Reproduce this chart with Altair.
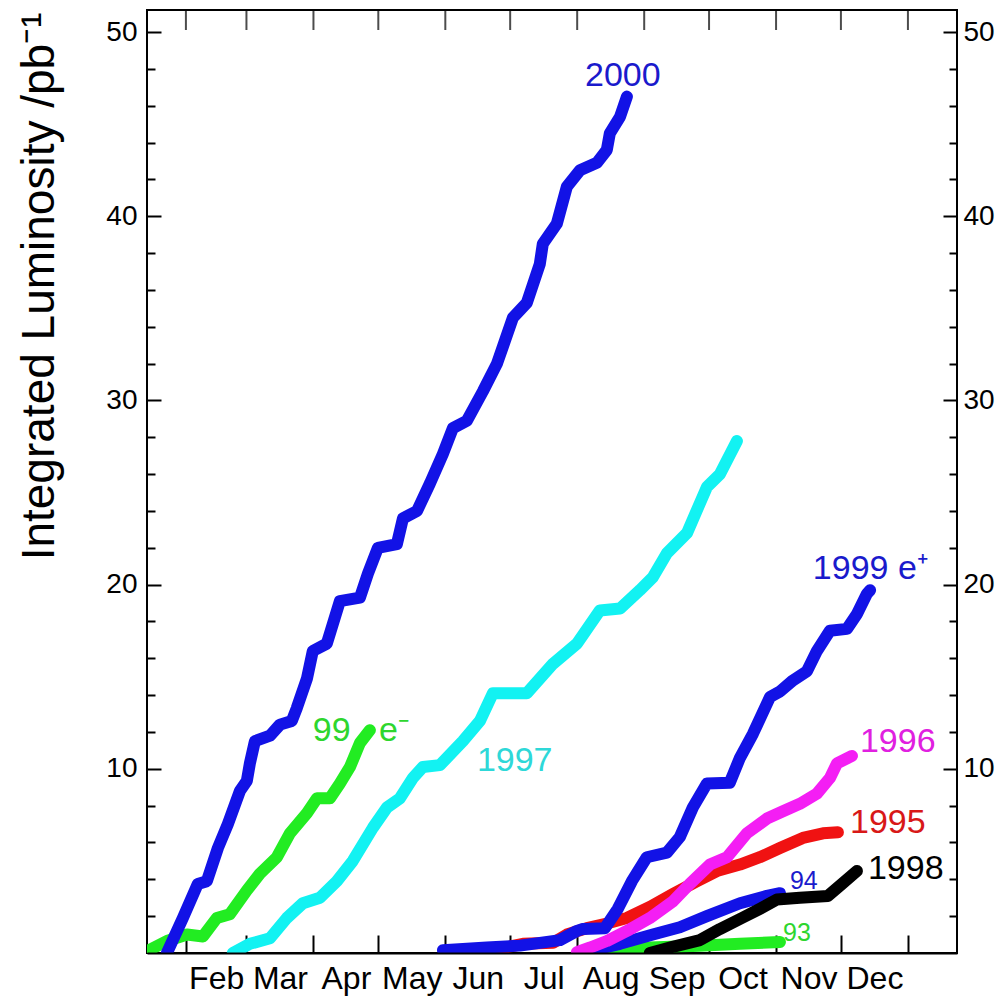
import json
import altair as alt
import pandas as pd

FONT = "Liberation Sans"
PLOT_W = 810
PLOT_H = 943

# ---- axis values -------------------------------------------------------
MONTHS = ["Feb", "Mar", "Apr", "May", "Jun", "Jul", "Aug", "Sep", "Oct", "Nov", "Dec"]
MONTH_START_DAYS = [31, 59, 90, 120, 151, 181, 212, 243, 273, 304, 334, 365]
MONTH_MID_DAYS = [45, 74.5, 105, 135.5, 166, 196.5, 227.5, 258, 288.5, 319, 349.5]
Y_LABELS = [10, 20, 30, 40, 50]
Y_MINOR = [2, 4, 6, 8, 12, 14, 16, 18, 22, 24, 26, 28, 32, 34, 36, 38, 42, 44, 46, 48]
Y_TITLE = "Integrated Luminosity /pb\u207b\u00b9"

# ---- series (day of year, integrated luminosity in pb^-1) ---------------
DAY_1993 = [217.9, 227.1, 245.6, 268.8, 287.3, 305.8]
LUM_1993 = [0.05, 0.15, 0.3, 0.4, 0.5, 0.6]

DAY_1994 = [215.6, 231.8, 247.0, 259.5, 272.0, 287.3, 299.8, 305.8]
LUM_1994 = [0.05, 0.5, 1.0, 1.4, 2.0, 2.7, 3.1, 3.25]

DAY_1995 = [169.3, 174.9, 186.9, 200.8, 207.2, 216.5, 225.7, 235.0, 245.6, 256.3,
            267.4, 276.6, 287.3, 296.5, 305.8, 316.4, 325.7, 332.6]
LUM_1995 = [0.1, 0.2, 0.5, 0.55, 1.0, 1.35, 1.6, 1.9, 2.5, 3.2,
            3.9, 4.45, 4.8, 5.2, 5.7, 6.25, 6.5, 6.55]

DAY_1996 = [211.9, 218.0, 225.7, 235.0, 245.6, 256.3, 264.1, 273.4, 281.3, 290.5,
            299.8, 307.2, 315.0, 322.9, 328.9, 332.2, 339.1]
LUM_1996 = [0.05, 0.3, 0.65, 1.2, 1.9, 2.8, 3.75, 4.8, 5.2, 6.5,
            7.3, 7.7, 8.1, 8.65, 9.5, 10.3, 10.7]

DAY_1997 = [52.7, 60.6, 69.9, 77.7, 85.1, 93.0, 100.8, 108.2, 117.5, 124.0,
            130.0, 136.0, 140.6, 148.5, 159.1, 167.0, 173.0, 188.7, 200.8, 211.9,
            222.5, 231.8, 241.0, 247.0, 253.5, 262.8, 272.0, 278.0, 285.9]
LUM_1997 = [0.0, 0.5, 0.8, 1.9, 2.7, 3.0, 3.9, 5.0, 6.8, 7.9,
            8.4, 9.5, 10.1, 10.2, 11.5, 12.6, 14.1, 14.1, 15.7, 16.8,
            18.6, 18.7, 19.7, 20.4, 21.7, 22.8, 25.3, 26.0, 27.8]

DAY_1998 = [245.6, 256.6, 268.8, 278.0, 288.2, 296.5, 304.4, 315.0, 328.0, 334.5, 341.4]
LUM_1998 = [0.0, 0.35, 0.7, 1.3, 1.9, 2.4, 2.9, 3.0, 3.1, 3.75, 4.45]

DAY_1999M = [13.0, 22.2, 31.5, 38.9, 45.3, 51.3, 59.2, 65.2, 73.1, 79.1,
             87.0, 91.6, 97.6, 102.2, 106.9, 111.5, 116.1]
LUM_1999M = [0.1, 0.65, 1.0, 0.9, 1.9, 2.1, 3.4, 4.3, 5.2, 6.5,
             7.6, 8.4, 8.4, 9.2, 10.1, 11.4, 12.1]

DAY_1999P = [149.9, 170.2, 185.5, 204.0, 211.9, 214.6, 224.8, 230.8, 237.3, 244.2,
             253.5, 259.5, 265.5, 272.0, 282.6, 287.3, 293.3, 301.2, 305.8, 311.8,
             318.3, 322.9, 328.9, 336.8, 341.4, 346.0, 347.5]
LUM_1999P = [0.15, 0.3, 0.4, 0.7, 1.2, 1.3, 1.35, 2.4, 3.9, 5.2,
             5.45, 6.3, 7.9, 9.2, 9.25, 10.6, 11.9, 13.9, 14.2, 14.8,
             15.3, 16.4, 17.5, 17.6, 18.4, 19.5, 19.7]

DAY_2000 = [22.2, 29.6, 36.5, 40.7, 45.8, 50.4, 56.0, 59.2, 60.6, 62.9,
            69.9, 74.5, 80.0, 82.3, 87.0, 89.7, 96.2, 102.2, 111.5, 115.2,
            119.8, 128.6, 131.4, 137.9, 143.9, 149.9, 154.5, 161.0, 168.4, 174.9,
            182.3, 188.7, 194.7, 196.1, 202.6, 207.2, 213.3, 221.1, 225.7, 227.1,
            231.8, 235.0]
LUM_2000 = [0.0, 1.9, 3.75, 3.9, 5.7, 7.0, 8.8, 9.35, 10.3, 11.5,
            11.8, 12.4, 12.6, 13.3, 14.9, 16.4, 16.8, 19.1, 19.3, 20.6,
            22.0, 22.2, 23.6, 24.0, 25.5, 27.1, 28.5, 28.9, 30.5, 32.0,
            34.5, 35.3, 37.4, 38.5, 39.6, 41.6, 42.5, 42.9, 43.6, 44.5,
            45.4, 46.5]

# drawing order: oldest first, newest on top
SERIES = ["1993", "1994", "1995", "1996", "1997", "1998", "1999 e-", "1999 e+", "2000"]
SERIES_DAYS = [DAY_1993, DAY_1994, DAY_1995, DAY_1996, DAY_1997, DAY_1998,
               DAY_1999M, DAY_1999P, DAY_2000]
SERIES_LUMS = [LUM_1993, LUM_1994, LUM_1995, LUM_1996, LUM_1997, LUM_1998,
               LUM_1999M, LUM_1999P, LUM_2000]
SERIES_COLORS = ["#22EC22", "#1212E6", "#F01212", "#F41EF4", "#12F2F2", "#000000",
                 "#22EC22", "#1212E6", "#1212E6"]

# ---- curve labels ---------------------------------------------------------
LABEL_TEXT = ["2000", "99\u00a0\u00a0\u00a0e\u207b", "1997", "1999 e\u207a", "1996",
              "1995", "1998", "94", "93"]
LABEL_DAY = [215.6, 89.7, 165.6, 321.0, 342.8, 338.2, 346.5, 310.4, 307.2]
LABEL_LUM = [47.1, 11.5, 9.9, 20.3, 10.9, 6.5, 4.0, 3.5, 0.65]
LABEL_COLORS = ["#1A1ACC", "#2ED62E", "#2ED8D8", "#1A1ACC", "#E020E0",
                "#D81818", "#000000", "#1A1ACC", "#2ED62E"]
LABEL_SIZES = [34, 34, 34, 34, 34, 34, 34, 25, 25]

# ---- build ---------------------------------------------------------------
rows = []
for name, days, lums in zip(SERIES, SERIES_DAYS, SERIES_LUMS):
    for d, v in zip(days, lums):
        rows.append({"series": name, "day": d, "lum": v})
df = pd.DataFrame(rows)

x_scale = alt.Scale(domain=[13, 387.7], nice=False, zero=False)
y_scale = alt.Scale(domain=[0, 51.2], nice=False, zero=False)

label_expr = f"{json.dumps(MONTHS)}[indexof({json.dumps(MONTH_MID_DAYS)}, datum.value)]"

ax_x_labels = alt.Axis(orient="bottom", values=MONTH_MID_DAYS, labelExpr=label_expr,
                       ticks=False, tickSize=0, domain=True, domainColor="black",
                       domainWidth=2, grid=False, labelFont=FONT, labelFontSize=32,
                       labelColor="black", labelPadding=10, labelFlush=False,
                       labelOverlap=False, title=None, zindex=1)
ax_y_labels = alt.Axis(orient="left", values=Y_LABELS, ticks=False, tickSize=0,
                       domain=False, grid=False, labelFont=FONT, labelFontSize=28,
                       labelColor="black", labelPadding=10, labelFlush=False,
                       labelOverlap=False, title=Y_TITLE, titleFont=FONT,
                       titleFontSize=46, titleFontWeight="normal", titleColor="black",
                       titleAngle=270, titleAlign="right", titleBaseline="alphabetic",
                       titleX=-94, titleY=2)


def tick_axis(orient, values, size, offset):
    return alt.Axis(orient=orient, values=values, labels=False, ticks=True,
                    tickSize=size, tickWidth=2, tickColor="black", domain=False,
                    grid=False, offset=offset, title=None)


ax_y_right_labels = alt.Axis(orient="right", values=Y_LABELS, ticks=False, tickSize=0,
                             domain=False, grid=False, labelFont=FONT, labelFontSize=28,
                             labelColor="black", labelPadding=6, labelFlush=False,
                             labelOverlap=False, title=None)

layers = []

# inward month ticks hanging from the top frame edge (tick marks on the x scale)
top_ticks = (
    alt.Chart(pd.DataFrame({"day": MONTH_START_DAYS}))
    .mark_tick(color="black", thickness=2, size=20, orient="vertical", yOffset=10)
    .encode(
        x=alt.X("day:Q", scale=x_scale, axis=None),
        y=alt.value(0),
    )
)

for i, (name, color) in enumerate(zip(SERIES, SERIES_COLORS)):
    layers.append(
        alt.Chart(df)
        .transform_filter(alt.datum.series == name)
        .mark_line(color=color, strokeWidth=12, strokeCap="round",
                   strokeJoin="round", clip=True)
        .encode(
            x=alt.X("day:Q", scale=x_scale, axis=ax_x_labels if i == 0 else None),
            y=alt.Y("lum:Q", scale=y_scale, axis=ax_y_labels if i == 0 else None),
        )
    )

carrier = pd.DataFrame({"day": [200.0], "lum": [20.0]})
# inward ticks: a "top" axis moved down to the bottom edge draws its ticks upward
axis_pairs = [
    (tick_axis("top", MONTH_START_DAYS, 18, -PLOT_H), tick_axis("left", Y_LABELS, 14, -14)),
    (None, tick_axis("left", Y_MINOR, 8, -8)),
    (None, ax_y_right_labels),
    (None, tick_axis("right", Y_LABELS, 14, -14)),
    (None, tick_axis("right", Y_MINOR, 8, -8)),
]
for xa, ya in axis_pairs:
    layers.append(
        alt.Chart(carrier)
        .mark_point(opacity=0)
        .encode(
            x=alt.X("day:Q", scale=x_scale, axis=xa),
            y=alt.Y("lum:Q", scale=y_scale, axis=ya),
        )
    )

layers.append(top_ticks)

for txt, d, v, c, s in zip(LABEL_TEXT, LABEL_DAY, LABEL_LUM, LABEL_COLORS, LABEL_SIZES):
    ldf = pd.DataFrame({"label": [txt], "day": [d], "lum": [v]})
    layers.append(
        alt.Chart(ldf)
        .mark_text(align="left", baseline="alphabetic", font=FONT, fontSize=s, color=c)
        .encode(
            x=alt.X("day:Q", scale=x_scale, axis=None),
            y=alt.Y("lum:Q", scale=y_scale, axis=None),
            text="label:N",
        )
    )

chart = (
    alt.layer(*layers)
    .resolve_axis(x="independent", y="independent")
    .properties(
        width=PLOT_W,
        height=PLOT_H,
        autosize=alt.AutoSizeParams(type="none"),
        padding={"left": 147, "top": 10, "right": 46, "bottom": 44},
        background="white",
    )
    .configure_view(stroke="black", strokeWidth=2)
)

chart.save("out.html", embed_options={"renderer": "svg", "actions": False})
